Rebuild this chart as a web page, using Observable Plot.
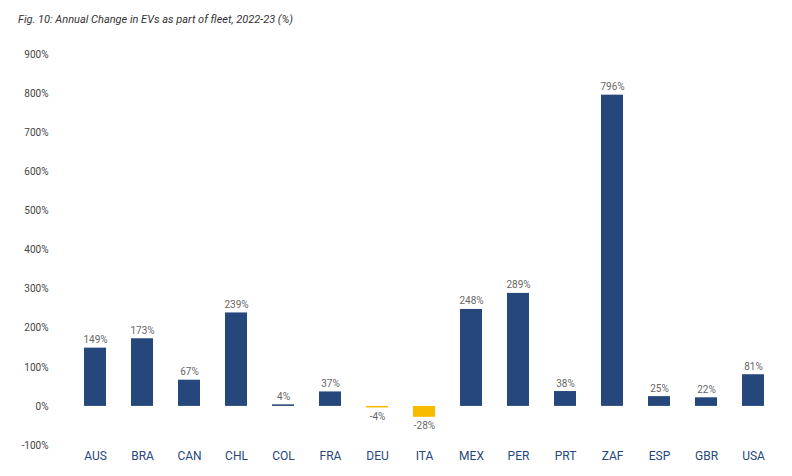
<!DOCTYPE html>
<html><head><meta charset="utf-8">
<script src="https://cdn.jsdelivr.net/npm/d3@7"></script>
<script src="https://cdn.jsdelivr.net/npm/@observablehq/plot@0.6"></script>
<style>
body{margin:0;background:#fff;font-family:Roboto,sans-serif;}
#t{font-style:italic;font-size:11px;color:#333;position:absolute;left:18px;top:13px;}
#c{position:absolute;left:0;top:30px;}
</style></head><body>
<div id="t">Fig. 10: Annual Change in EVs as part of fleet, 2022-23 (%)</div>
<div id="c"></div>
<script>
const countries = ["AUS","BRA","CAN","CHL","COL","FRA","DEU","ITA","MEX","PER","PRT","ZAF","ESP","GBR","USA"];
const values = [149,173,67,239,4,37,-4,-28,248,289,38,796,25,22,81];
const ticks = [-100,0,100,200,300,400,500,600,700,800,900];
const data = countries.map((c,i)=>({c, v: values[i]}));
const chart = Plot.plot({
  width: 792, height: 446,
  marginTop: 24, marginBottom: 31, marginLeft: 57, marginRight: 2,
  style: {fontFamily: "Roboto, sans-serif", fontSize: "11px"},
  x: {domain: countries, padding: 0.54, label: null, tickSize: 0, tickPadding: 6},
  y: {domain: [-100, 900], ticks, tickFormat: d => d + "%", label: null, tickSize: 0, tickPadding: 9},
  marks: [
    Plot.gridY(ticks, {stroke: "#d9d9d9", strokeOpacity: 1, x1: 57, x2: 790}),
    Plot.barY(data, {x: "c", y: "v", fill: d => d.v < 0 ? "#f9bb00" : "#25477b"}),
    Plot.text(data, {x: "c", y: "v", text: d => d.v + "%", dy: d => 0, lineAnchor: "bottom", fill: "#666", fontSize: 10,
      filter: d => d.v >= 0, dy: -5}),
    Plot.text(data, {x: "c", y: "v", text: d => d.v + "%", lineAnchor: "top", fill: "#666", fontSize: 10,
      filter: d => d.v < 0, dy: 5})
  ]
});
chart.querySelectorAll('[aria-label="x-axis tick label"] text').forEach(t=>t.setAttribute("fill","#25477b"));
chart.querySelector('[aria-label="x-axis tick label"]')?.setAttribute("fill","#25477b");
chart.querySelector('[aria-label="x-axis tick label"]')?.setAttribute("font-size","12");
chart.querySelector('[aria-label="y-axis tick label"]')?.setAttribute("fill","#444");
chart.querySelector('[aria-label="y-axis tick label"]')?.setAttribute("font-size","10");
document.getElementById("c").appendChild(chart);
</script></body></html>
